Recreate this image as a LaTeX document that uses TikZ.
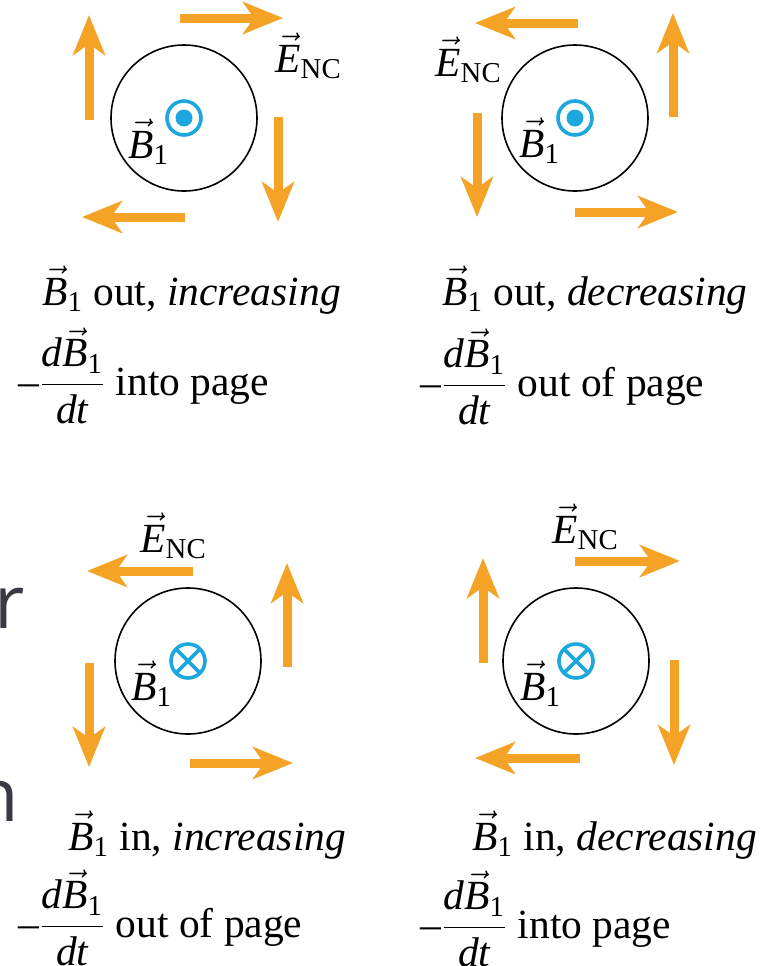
\documentclass[tikz,border=0pt]{standalone}
\usepackage{amsmath}
\usepackage{fontspec}
\setmainfont{Liberation Serif}
\newfontfamily\uifont{Open Sans}
\usetikzlibrary{arrows.meta}
\definecolor{ncorange}{RGB}{244,163,38}
\definecolor{fluxblue}{RGB}{28,168,222}
\definecolor{screengray}{RGB}{58,58,68}
\newcommand{\fluxB}{\vec{\textit{B}}_{\text{1}}}
\newcommand{\fieldE}{\vec{\textit{E}}_{\text{NC}}}
\newcommand{\rateB}{\text{--}\dfrac{\textit{d}\fluxB}{\textit{dt}}}

\begin{document}
\begin{tikzpicture}[x=0.5pt, y=-0.5pt,
    loop/.style={draw, circle, line width=0.8pt, minimum size=73pt, inner sep=0pt},
    ncarrow/.style={ncorange, line width=4.5pt, -{Stealth[length=20pt, width=16pt, inset=5.5pt]}},
    fluxring/.style={fluxblue, line width=1.8pt},
    lbl/.style={inner sep=0pt, anchor=base west, font=\fontsize{20.74}{25}\selectfont},
    stray/.style={inner sep=0pt, anchor=base west, screengray, font=\uifont\fontsize{37}{40}\selectfont}]
  \useasboundingbox (0,0) rectangle (761,966);
  \clip (0,0) rectangle (761,966);

  % Top left: out, increasing
  \node[loop] (loopTL) at (184,118) {};
  \draw[fluxring] (loopTL) circle (17);
  \fill[fluxblue] (loopTL) circle (8.5);
  \draw[ncarrow] (89,120) -- (89,15);
  \draw[ncarrow] (180,18) -- (283,18);
  \draw[ncarrow] (278,117) -- (278,222);
  \draw[ncarrow] (185,217) -- (82,217);
  \node[lbl] (bTL) at (128,158) {$\fluxB$};
  \node[lbl] (eTL) at (275,72) {$\fieldE$};
  \node[lbl] (capTL) at (42,305) {$\fluxB$ out, \textit{increasing}};
  \node[lbl] (rateTL) at (18,395) {$\rateB$ into page};

  % Top right: out, decreasing
  \node[loop] (loopTR) at (575,118) {};
  \draw[fluxring] (loopTR) circle (17);
  \fill[fluxblue] (loopTR) circle (8.5);
  \draw[ncarrow] (578,23) -- (475,23);
  \draw[ncarrow] (673,117) -- (673,13);
  \draw[ncarrow] (477,113) -- (477,217);
  \draw[ncarrow] (575,212) -- (678,212);
  \node[lbl] (bTR) at (519,157) {$\fluxB$};
  \node[lbl] (eTR) at (435,76) {$\fieldE$};
  \node[lbl] (capTR) at (442,305) {$\fluxB$ out, \textit{decreasing}};
  \node[lbl] (rateTR) at (420,396) {$\rateB$ out of page};

  % Bottom left: in, increasing
  \node[loop] (loopBL) at (188,661) {};
  \begin{scope}[shift={(loopBL)}]
    \draw[fluxring] (0,0) circle (17) (-12,-12) -- (12,12) (-12,12) -- (12,-12);
  \end{scope}
  \draw[ncarrow] (193,571) -- (87,571);
  \draw[ncarrow] (287,667) -- (287,563);
  \draw[ncarrow] (89,663) -- (89,767);
  \draw[ncarrow] (190,763) -- (293,763);
  \node[lbl] (bBL) at (131,700) {$\fluxB$};
  \node[lbl] (eBL) at (140,552) {$\fieldE$};
  \node[lbl] (capBL) at (68,850) {$\fluxB$ in, \textit{increasing}};
  \node[lbl] (rateBL) at (18,937) {$\rateB$ out of page};

  % Bottom right: in, decreasing
  \node[loop] (loopBR) at (576,661) {};
  \begin{scope}[shift={(loopBR)}]
    \draw[fluxring] (0,0) circle (17) (-12,-12) -- (12,12) (-12,12) -- (12,-12);
  \end{scope}
  \draw[ncarrow] (575,561) -- (680,561);
  \draw[ncarrow] (483,663) -- (483,558);
  \draw[ncarrow] (674,660) -- (674,765);
  \draw[ncarrow] (580,758) -- (475,758);
  \node[lbl] (bBR) at (520,700) {$\fluxB$};
  \node[lbl] (eBR) at (552,543) {$\fieldE$};
  \node[lbl] (capBR) at (472,850) {$\fluxB$ in, \textit{decreasing}};
  \node[lbl] (rateBR) at (420,938) {$\rateB$ into page};

  % cut-off letters at the left edge
  \node[stray] (cutR) at (-6,628) {r};
  \node[stray] (cutN) at (-27,821) {n};
\end{tikzpicture}
\end{document}
